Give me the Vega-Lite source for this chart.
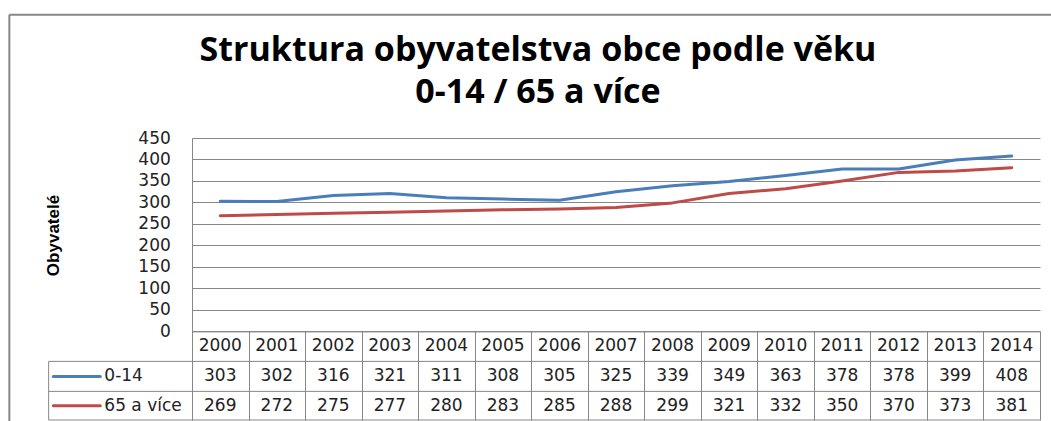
{
  "$schema": "https://vega.github.io/schema/vega-lite/v6.json",
  "width": 848,
  "height": 282,
  "padding": {"left": 8, "top": 13, "right": 0, "bottom": 0},
  "background": "white",
  "title": {
    "text": ["Struktura obyvatelstva obce podle věku", "0-14 / 65 a více"],
    "font": "Open Sans",
    "fontSize": 34,
    "fontWeight": "bold",
    "color": "#000000",
    "anchor": "middle",
    "frame": "group",
    "dx": -78,
    "offset": -96,
    "lineHeight": 42
  },
  "config": {
    "view": {"stroke": null},
    "style": {
      "guide-title": {"font": "Liberation Sans", "fontSize": 17, "fontWeight": "bold", "fill": "#000000"}
    },
    "axis": {
      "titleFont": "Liberation Sans", "titleFontSize": 17,
      "titleFontWeight": "bold", "titleColor": "#000000"
    },
    "axisY": {
      "labelOverlap": false,
      "labelFont": "DejaVu Sans", "labelFontSize": 17, "labelColor": "#222222",
      "titleFont": "Liberation Sans", "titleFontSize": 17,
      "titleFontWeight": "bold", "titleColor": "#000000",
      "titleAlign": "center"
    }
  },
  "data": {
    "values": [
      {"year": 2000, "series": "0-14", "value": 303},
      {"year": 2001, "series": "0-14", "value": 302},
      {"year": 2002, "series": "0-14", "value": 316},
      {"year": 2003, "series": "0-14", "value": 321},
      {"year": 2004, "series": "0-14", "value": 311},
      {"year": 2005, "series": "0-14", "value": 308},
      {"year": 2006, "series": "0-14", "value": 305},
      {"year": 2007, "series": "0-14", "value": 325},
      {"year": 2008, "series": "0-14", "value": 339},
      {"year": 2009, "series": "0-14", "value": 349},
      {"year": 2010, "series": "0-14", "value": 363},
      {"year": 2011, "series": "0-14", "value": 378},
      {"year": 2012, "series": "0-14", "value": 378},
      {"year": 2013, "series": "0-14", "value": 399},
      {"year": 2014, "series": "0-14", "value": 408},
      {"year": 2000, "series": "65 a více", "value": 269},
      {"year": 2001, "series": "65 a více", "value": 272},
      {"year": 2002, "series": "65 a více", "value": 275},
      {"year": 2003, "series": "65 a více", "value": 277},
      {"year": 2004, "series": "65 a více", "value": 280},
      {"year": 2005, "series": "65 a více", "value": 283},
      {"year": 2006, "series": "65 a více", "value": 285},
      {"year": 2007, "series": "65 a více", "value": 288},
      {"year": 2008, "series": "65 a více", "value": 299},
      {"year": 2009, "series": "65 a více", "value": 321},
      {"year": 2010, "series": "65 a více", "value": 332},
      {"year": 2011, "series": "65 a více", "value": 350},
      {"year": 2012, "series": "65 a více", "value": 370},
      {"year": 2013, "series": "65 a více", "value": 373},
      {"year": 2014, "series": "65 a více", "value": 381}
    ]
  },
  "layer": [
    {
      "mark": {"type": "line", "strokeWidth": 3, "strokeCap": "round", "strokeJoin": "round"},
      "encoding": {
        "x": {
          "field": "year", "type": "quantitative", "title": null,
          "scale": {"domain": [1999.5, 2014.5], "nice": false, "zero": false},
          "axis": {
            "orient": "bottom",
            "values": [1999.5, 2000.5, 2001.5, 2002.5, 2003.5, 2004.5, 2005.5, 2006.5, 2007.5, 2008.5, 2009.5, 2010.5, 2011.5, 2012.5, 2013.5, 2014.5],
            "tickCount": 40,
            "labels": false, "ticks": true, "tickSize": 88.6, "tickColor": "#878787", "tickWidth": 1,
            "domain": true, "domainColor": "#878787", "domainWidth": 1,
            "grid": false, "offset": -88.6, "title": null
          }
        },
        "y": {
          "field": "value", "type": "quantitative", "title": "Obyvatelé",
          "scale": {"domain": [-206.2, 450], "nice": false, "zero": false},
          "axis": {
            "values": [0, 50, 100, 150, 200, 250, 300, 350, 400, 450],
            "tickCount": 40,
            "labelOverlap": false,
            "grid": true, "gridColor": "#878787", "gridWidth": 1,
            "domain": true, "domainColor": "#878787", "domainWidth": 1,
            "ticks": false, "labelPadding": 21.7,
            "labelFont": "DejaVu Sans", "labelFontSize": 17, "labelColor": "#222222",
            "title": "Obyvatelé", "titleFont": "Liberation Sans", "titleFontSize": 17,
            "titleFontWeight": "bold", "titleColor": "#000000",
            "titleX": -139, "titleY": 97, "titleAngle": -90,
            "titleBaseline": "middle", "titleAlign": "center"
          }
        },
        "color": {
          "field": "series", "type": "nominal",
          "scale": {"domain": ["0-14", "65 a více"], "range": ["#4A7EBB", "#BE4B48"]},
          "legend": null
        }
      }
    },
    {
      "transform": [{"filter": "datum.series === '0-14'"}],
      "mark": {"type": "text", "font": "DejaVu Sans", "fontSize": 17, "color": "#222222", "baseline": "middle", "align": "center"},
      "encoding": {
        "x": {"field": "year", "type": "quantitative"},
        "y": {"datum": -34.9},
        "text": {"field": "year", "type": "nominal"}
      }
    },
    {
      "transform": [{"filter": "datum.series === '0-14'"}],
      "mark": {"type": "text", "font": "DejaVu Sans", "fontSize": 17, "color": "#222222", "baseline": "middle", "align": "center"},
      "encoding": {
        "x": {"field": "year", "type": "quantitative"},
        "y": {"datum": -104.7},
        "text": {"field": "value", "type": "quantitative"}
      }
    },
    {
      "transform": [{"filter": "datum.series === '65 a více'"}],
      "mark": {"type": "text", "font": "DejaVu Sans", "fontSize": 17, "color": "#222222", "baseline": "middle", "align": "center"},
      "encoding": {
        "x": {"field": "year", "type": "quantitative"},
        "y": {"datum": -172.9},
        "text": {"field": "value", "type": "quantitative"}
      }
    },
    {
      "transform": [{"filter": "datum.series === '0-14' && datum.year === 2000"}],
      "mark": {"type": "text", "font": "DejaVu Sans", "fontSize": 17, "color": "#222222", "baseline": "middle", "align": "left"},
      "encoding": {
        "x": {"datum": 1997.949},
        "y": {"datum": -104.7},
        "text": {"field": "series", "type": "nominal"}
      }
    },
    {
      "transform": [{"filter": "datum.series === '65 a více' && datum.year === 2000"}],
      "mark": {"type": "text", "font": "DejaVu Sans", "fontSize": 17, "color": "#222222", "baseline": "middle", "align": "left"},
      "encoding": {
        "x": {"datum": 1997.949},
        "y": {"datum": -172.9},
        "text": {"field": "series", "type": "nominal"}
      }
    },
    {
      "data": {"values": [{}]},
      "mark": {"type": "rule", "color": "#4A7EBB", "strokeWidth": 3, "strokeCap": "round"},
      "encoding": {
        "x": {"datum": 1997.047},
        "x2": {"datum": 1997.878},
        "y": {"datum": -104.7}
      }
    },
    {
      "data": {"values": [{}]},
      "mark": {"type": "rule", "color": "#BE4B48", "strokeWidth": 3, "strokeCap": "round"},
      "encoding": {
        "x": {"datum": 1997.047},
        "x2": {"datum": 1997.878},
        "y": {"datum": -172.9}
      }
    },
    {
      "data": {"values": [{}]},
      "mark": {"type": "rule", "color": "#878787", "strokeWidth": 1},
      "encoding": {
        "x": {"datum": 1996.964},
        "x2": {"datum": 2014.5},
        "y": {"datum": -69.8}
      }
    },
    {
      "data": {"values": [{}]},
      "mark": {"type": "rule", "color": "#878787", "strokeWidth": 1},
      "encoding": {
        "x": {"datum": 1996.964},
        "x2": {"datum": 2014.5},
        "y": {"datum": -139.6}
      }
    },
    {
      "data": {"values": [{}]},
      "mark": {"type": "rule", "color": "#878787", "strokeWidth": 1},
      "encoding": {
        "x": {"datum": 1996.964},
        "x2": {"datum": 2014.5},
        "y": {"datum": -206.2}
      }
    },
    {
      "data": {"values": [{}]},
      "mark": {"type": "rule", "color": "#878787", "strokeWidth": 1},
      "encoding": {
        "x": {"datum": 1996.964},
        "y": {"datum": -69.8},
        "y2": {"datum": -206.2}
      }
    },
    {
      "data": {"values": [{}]},
      "mark": {"type": "rule", "color": "#878787", "strokeWidth": 2},
      "encoding": {
        "x": {"datum": 1996.269},
        "x2": {"datum": 2014.8},
        "y": {"datum": 736.9}
      }
    },
    {
      "data": {"values": [{}]},
      "mark": {"type": "rule", "color": "#878787", "strokeWidth": 2},
      "encoding": {
        "x": {"datum": 1996.269},
        "y": {"datum": 736.9},
        "y2": {"datum": -215}
      }
    }
  ]
}
